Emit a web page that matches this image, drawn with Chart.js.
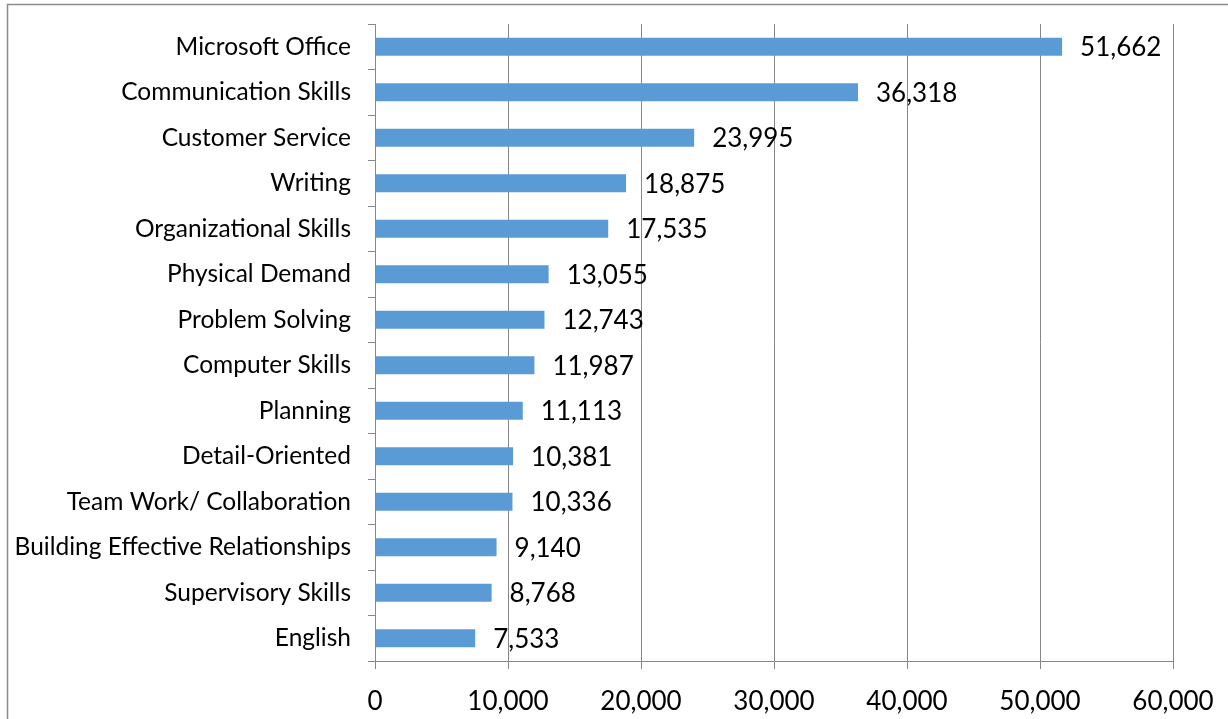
<!DOCTYPE html>
<html>
<head>
<meta charset="utf-8">
<script src="https://cdn.jsdelivr.net/npm/chart.js@4/dist/chart.umd.min.js"></script>
<style>
  html, body { margin: 0; padding: 0; background: #fff; overflow: hidden; }
  #wrap { position: relative; width: 1228px; height: 719px; }
</style>
</head>
<body>
<div id="wrap"><canvas id="c" width="1228" height="719"></canvas></div>
<script>
const categories = [
  "Microsoft Office", "Communication Skills", "Customer Service", "Writing",
  "Organizational Skills", "Physical Demand", "Problem Solving", "Computer Skills",
  "Planning", "Detail-Oriented", "Team Work/ Collaboration",
  "Building Effective Relationships", "Supervisory Skills", "English"
];
const values = [51662, 36318, 23995, 18875, 17535, 13055, 12743, 11987, 11113, 10381, 10336, 9140, 8768, 7533];
const xTicks = [0, 10000, 20000, 30000, 40000, 50000, 60000];

const FONT = "Lato, 'Open Sans', sans-serif";
const GRID = "#878787";

const framePlugin = {
  id: 'frame',
  beforeDraw(chart) {
    const ctx = chart.ctx;
    ctx.save();
    ctx.fillStyle = '#fff';
    ctx.fillRect(0, 0, chart.width, chart.height);
    ctx.strokeStyle = '#8c8c8c';
    ctx.lineWidth = 1.5;
    ctx.strokeRect(7.5, 4.5, 1400, 900);
    ctx.restore();
  }
};

const labelPlugin = {
  id: 'valueLabels',
  afterDatasetsDraw(chart) {
    const ctx = chart.ctx;
    const meta = chart.getDatasetMeta(0);
    ctx.save();
    ctx.font = "26px " + FONT;
    ctx.fillStyle = '#000';
    ctx.textBaseline = 'middle';
    ctx.textAlign = 'left';
    meta.data.forEach((bar, i) => {
      ctx.fillText(values[i].toLocaleString('en-US'), bar.x + 18, bar.y + 1);
    });
    ctx.restore();
  }
};

new Chart(document.getElementById('c'), {
  type: 'bar',
  data: {
    labels: categories,
    datasets: [{
      data: values,
      backgroundColor: '#5B9BD5',
      borderWidth: 0,
      barPercentage: 0.4,
      categoryPercentage: 1.0
    }]
  },
  options: {
    indexAxis: 'y',
    responsive: false,
    animation: false,
    devicePixelRatio: 1,
    layout: { padding: { top: 24, right: 55, bottom: 0, left: 0 } },
    plugins: { legend: { display: false }, tooltip: { enabled: false } },
    scales: {
      x: {
        type: 'linear',
        min: 0, max: 60000,
        afterBuildTicks(scale) { scale.ticks = xTicks.map(v => ({ value: v })); },
        afterFit(scale) { scale.height = 58; scale.paddingLeft = 0; scale.paddingRight = 0; },
        ticks: {
          color: '#000',
          font: { family: FONT, size: 26 },
          padding: 17,
          maxRotation: 0,
          callback: v => v.toLocaleString('en-US')
        },
        grid: { color: GRID, lineWidth: 1, drawTicks: true, tickLength: 8, tickColor: GRID },
        border: { color: GRID, width: 1 }
      },
      y: {
        type: 'category',
        offset: true,
        afterFit(scale) { scale.width = 375; scale.paddingTop = 0; scale.paddingBottom = 0; },
        ticks: {
          color: '#000',
          font: { family: FONT, size: 24.5 },
          padding: 17,
          autoSkip: false
        },
        grid: { offset: true, drawOnChartArea: false, drawTicks: true, tickLength: 7, color: GRID, tickColor: GRID },
        border: { color: GRID, width: 1 }
      }
    }
  },
  plugins: [framePlugin, labelPlugin]
});
</script>
</body>
</html>
